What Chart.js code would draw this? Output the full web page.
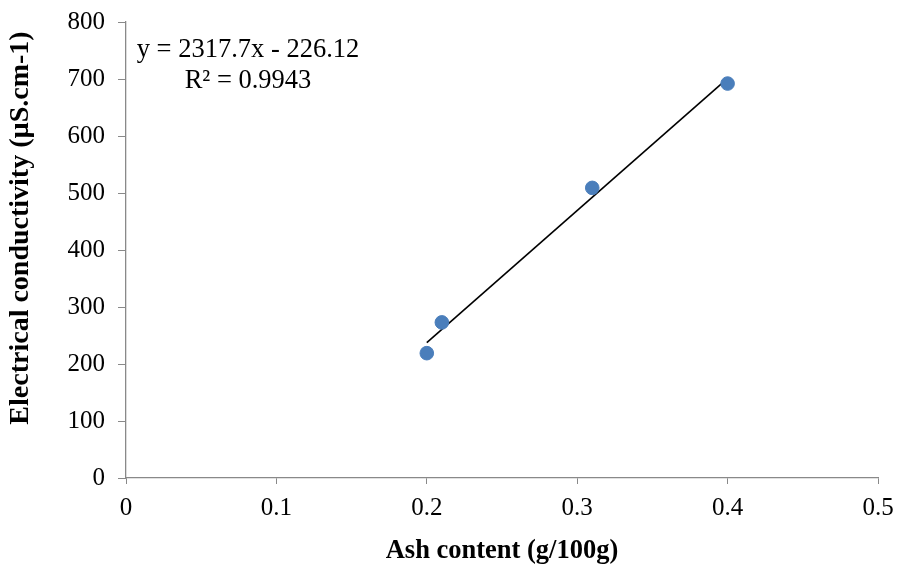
<!DOCTYPE html>
<html>
<head>
<meta charset="utf-8">
<script src="https://cdn.jsdelivr.net/npm/chart.js@4"></script>
<style>
  html, body { margin: 0; padding: 0; background: #fff; }
  #wrap { width: 897px; height: 567px; }
</style>
</head>
<body>
<div id="wrap"><canvas id="grafica"></canvas></div>
<script>
// datos
const ash = [0.2, 0.21, 0.31, 0.4];
const conductivity = [219, 273, 509, 692];
// linea de tendencia (extremos)
const trendX = [0.2, 0.4];
const trendY = [237.42, 700.96];
const eqText = 'y = 2317.7x - 226.12';
const r2Text = 'R² = 0.9943';
const yTitle = 'Electrical conductivity (µS.cm-1)';
const xTitle = 'Ash content (g/100g)';

const axisGray = '#898989';
const serif = "'Liberation Serif', 'Times New Roman', serif";

// ecuacion y titulo del eje y
const textPlugin = {
    id: 'textPlugin',
    afterDraw(chart) {
        const ctx = chart.ctx;
        ctx.save();
        ctx.fillStyle = '#000';
        ctx.font = '26.5px ' + serif;
        ctx.textBaseline = 'middle';
        ctx.textAlign = 'center';
        ctx.fillText(eqText, 248, 50);
        ctx.fillText(r2Text, 248, 81);

        ctx.font = 'bold 28px ' + serif;
        ctx.translate(21, 228);
        ctx.rotate(-Math.PI / 2);
        ctx.fillText(yTitle, 0, 0);
        ctx.restore();
    }
};

new Chart(document.getElementById('grafica'), {
    type: 'scatter',
    data: {
        datasets: [
            {
                label: 'Trend',
                type: 'line',
                data: trendX.map((x, i) => ({ x: x, y: trendY[i] })),
                borderColor: '#000',
                borderWidth: 1.6,
                pointRadius: 0,
                fill: false,
                order: 2
            },
            {
                label: 'EC',
                data: ash.map((x, i) => ({ x: x, y: conductivity[i] })),
                backgroundColor: '#4A7EBB',
                borderColor: '#4A7EBB',
                pointRadius: 6.8,
                order: 1
            }
        ]
    },
    options: {
        responsive: true,
        maintainAspectRatio: false,
        animation: false,
        layout: { autoPadding: false, padding: { top: 22, right: 19, left: 0, bottom: 0 } },
        plugins: {
            legend: { display: false },
            tooltip: { enabled: false }
        },
        scales: {
            x: {
                type: 'linear',
                min: 0,
                max: 0.5,
                afterFit: s => {
                    s.height = 89;
                    s.paddingLeft = 0;
                    s.paddingRight = 0;
                },
                ticks: {
                    stepSize: 0.1,
                    padding: 9,
                    color: '#000',
                    font: { family: serif, size: 25 }
                },
                grid: { drawOnChartArea: false, tickLength: 6, color: axisGray },
                border: { color: axisGray, width: 1.3 },
                title: {
                    display: true,
                    text: xTitle,
                    color: '#000',
                    font: { family: serif, size: 26.5, weight: 'bold' },
                    padding: { top: 0, bottom: 0 }
                }
            },
            y: {
                min: 0,
                max: 800,
                afterFit: s => {
                    s.width = 126;
                    s.paddingTop = 0;
                    s.paddingBottom = 0;
                },
                ticks: {
                    stepSize: 100,
                    padding: 13,
                    color: '#000',
                    font: { family: serif, size: 25 }
                },
                grid: { drawOnChartArea: false, tickLength: 8, color: axisGray },
                border: { color: axisGray, width: 1.3 }
            }
        }
    },
    plugins: [textPlugin]
});
</script>
</body>
</html>
